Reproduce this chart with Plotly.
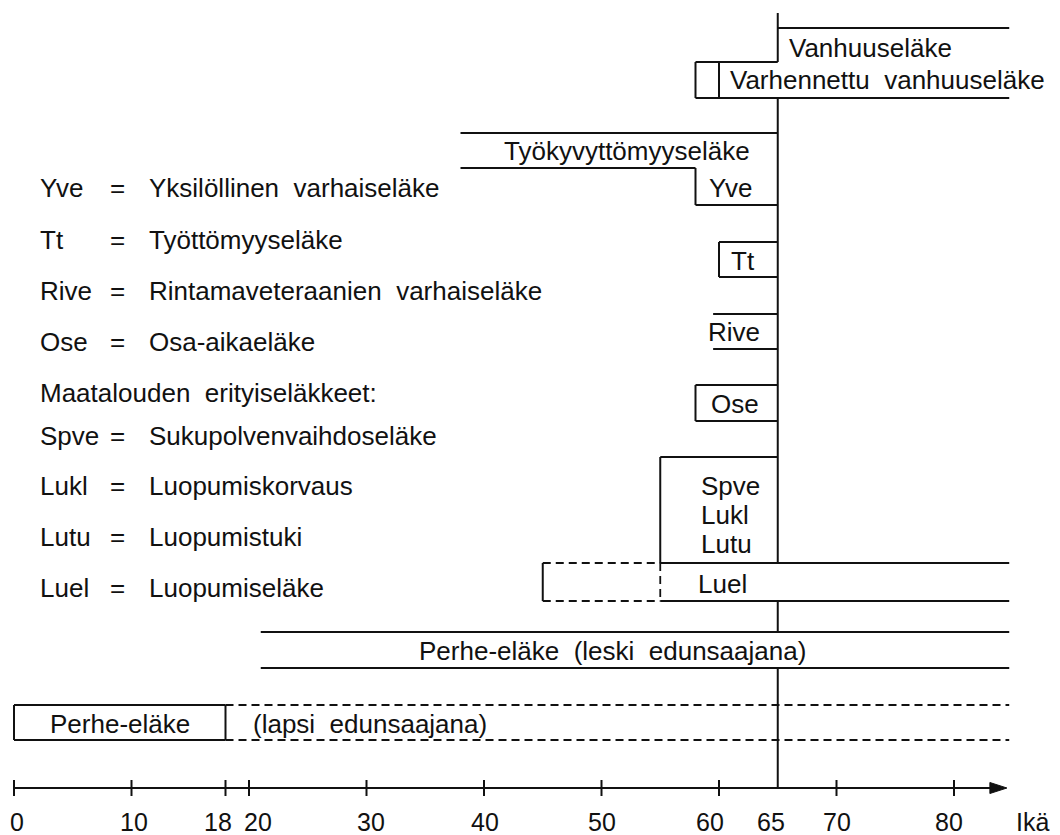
import plotly.graph_objects as go

# ---------------- data (ages in years) ----------------
AGE_END = 84.7            # open-ended pensions run to the right edge of the age scale
RETIREMENT_AGE = 65
axis_ticks = [0, 10, 18, 20, 30, 40, 50, 60, 65, 70, 80]
axis_end = 84.5
axis_title = "Ikä"

pension_labels = ["Vanhuuseläke", "Varhennettu vanhuuseläke", "Työkyvyttömyyseläke",
                  "Yve", "Tt", "Rive", "Ose", "Spve\nLukl\nLutu", "Luel",
                  "Perhe-eläke (leski edunsaajana)", "Perhe-eläke", "(lapsi edunsaajana)"]
vanhuus_start = 65
varhennettu_start = [58, 60]      # small box 58-60, band from 60
tyokyvyttomyys_start = 38
yve_start = 58
tt_start = 60
rive_start = 59.5
ose_start = 58
maatalous_start = 55              # Spve, Lukl, Lutu
luel_start = [45, 55]             # dashed from 45, solid from 55
leski_start = 21
lapsi_range = [0, 18]             # solid box, then dashed continuation

legend_abbr = ["Yve", "Tt", "Rive", "Ose", "Spve", "Lukl", "Lutu", "Luel"]
legend_desc = ["Yksilöllinen varhaiseläke", "Työttömyyseläke",
               "Rintamaveteraanien varhaiseläke", "Osa-aikaeläke",
               "Sukupolvenvaihdoseläke", "Luopumiskorvaus", "Luopumistuki",
               "Luopumiseläke"]
legend_heading = "Maatalouden erityiseläkkeet:"

# ---------------- layout (pixel rows, from top) ----------------
W, H = 1060, 835
PX0, PX_PER_YEAR = 14, 11.75
FONT = "Liberation Sans, Arial, Helvetica, sans-serif"
FS = 26
INK = "#111111"
NB = "\u00a0\u00a0"
# hand-placed tick label offsets (px) as in the original drawing
tick_label_shift = [3, 2, -8, 9, 4, 1, 0, -9, -7, 0, -5]

solid, dashed = [], []


def hline(lst, x0, x1, y):
    lst.append((x0, y, x1, y))


def vline(lst, x, y0, y1):
    lst.append((x, y0, x, y1))


R = RETIREMENT_AGE
# tall retirement-age line
vline(solid, R, 13, 62)
vline(solid, R, 98, 563)
vline(solid, R, 601, 632)
vline(solid, R, 668, 788)
# Vanhuuseläke
hline(solid, vanhuus_start, AGE_END, 28)
# Varhennettu vanhuuseläke
hline(solid, varhennettu_start[0], R, 62)
vline(solid, varhennettu_start[0], 62, 98)
vline(solid, varhennettu_start[1], 62, 98)
hline(solid, varhennettu_start[0], AGE_END, 98)
# Työkyvyttömyyseläke + Yve
hline(solid, tyokyvyttomyys_start, R, 133)
hline(solid, tyokyvyttomyys_start, yve_start, 168)
vline(solid, yve_start, 168, 205)
hline(solid, yve_start, R, 205)
# Tt
hline(solid, tt_start, R, 242)
hline(solid, tt_start, R, 277)
vline(solid, tt_start, 242, 277)
# Rive
hline(solid, rive_start, R, 314)
hline(solid, rive_start, R, 349)
# Ose
hline(solid, ose_start, R, 385)
hline(solid, ose_start, R, 421)
vline(solid, ose_start, 385, 421)
# Spve / Lukl / Lutu
hline(solid, maatalous_start, R, 457)
vline(solid, maatalous_start, 457, 563)
# Luel
hline(solid, luel_start[1], AGE_END, 563)
hline(solid, luel_start[1], AGE_END, 601)
hline(dashed, luel_start[0], luel_start[1], 563)
hline(dashed, luel_start[0], luel_start[1], 601)
vline(solid, luel_start[0], 563, 601)
vline(dashed, luel_start[1], 563, 601)
# Perhe-eläke (leski)
hline(solid, leski_start, AGE_END, 632)
hline(solid, leski_start, AGE_END, 668)
# Perhe-eläke (lapsi)
hline(solid, lapsi_range[0], lapsi_range[1], 705)
hline(solid, lapsi_range[0], lapsi_range[1], 740)
vline(solid, lapsi_range[0], 705, 740)
vline(solid, lapsi_range[1], 705, 740)
hline(dashed, lapsi_range[1], AGE_END, 705)
hline(dashed, lapsi_range[1], AGE_END, 740)
# age axis
AX_Y = 788
arrow_len = 17 / PX_PER_YEAR
hline(solid, axis_ticks[0], axis_end - arrow_len + 0.2, AX_Y)
for t in axis_ticks:
    if t != R:
        vline(solid, t, AX_Y - 8, AX_Y + 8)


def to_xy(segs):
    xs, ys = [], []
    for x0, y0, x1, y1 in segs:
        xs += [x0, x1, None]
        ys += [y0, y1, None]
    return xs, ys


fig = go.Figure()
sx, sy = to_xy(solid)
fig.add_trace(go.Scatter(x=sx, y=sy, mode="lines", line=dict(color=INK, width=2),
                         hoverinfo="skip", showlegend=False))
dx, dy = to_xy(dashed)
fig.add_trace(go.Scatter(x=dx, y=dy, mode="lines",
                         line=dict(color=INK, width=1.8, dash="8px,5px"),
                         hoverinfo="skip", showlegend=False))
# arrow head
fig.add_trace(go.Scatter(x=[axis_end - arrow_len, axis_end, axis_end - arrow_len, axis_end - arrow_len],
                         y=[AX_Y - 5.5, AX_Y, AX_Y + 5.5, AX_Y - 5.5], mode="lines",
                         fill="toself", fillcolor=INK, line=dict(color=INK, width=1),
                         hoverinfo="skip", showlegend=False))


def label(text, x, y, anchor="left", size=FS, xshift=0):
    fig.add_annotation(x=x, y=y, xref="x", yref="y", text=text, showarrow=False,
                       xanchor=anchor, yanchor="middle", xshift=xshift,
                       font=dict(family=FONT, size=size, color=INK))


# tick labels
for t, sh in zip(axis_ticks, tick_label_shift):
    label(str(t), t, 822, "center", FS - 1, sh)
label(axis_title, axis_end + 2.2, 822, "center", FS - 1)

label(pension_labels[0], vanhuus_start + 0.8, 48)
label(pension_labels[1].replace(" ", NB), varhennettu_start[1] + 0.8, 80)
label(pension_labels[2], R - 2.2, 151, "right")
label(pension_labels[3], (yve_start + R) / 2 - 0.5, 188, "center")
label(pension_labels[4], (tt_start + R) / 2 - 0.5, 261, "center")
label(pension_labels[5], (rive_start + R) / 2 - 1.0, 332, "center")
label(pension_labels[6], (ose_start + R) / 2 - 0.1, 404, "center")
for i, part in enumerate(pension_labels[7].split("\n")):
    label(part, maatalous_start + 3.3, 486 + 29 * i)
label(pension_labels[8], (luel_start[1] + R) / 2 + 0.3, 584, "center")
label(pension_labels[9].replace(" ", NB), leski_start + 13.3, 651)
label(pension_labels[10], sum(lapsi_range) / 2, 724, "center")
label(pension_labels[11].replace(" ", NB), lapsi_range[1] + 2.2, 724)

# explanation list on the left (paper-x positions)
legend_rows = [188, 240, 291, 342, 436, 486, 537, 588]
for ab, desc, yy in zip(legend_abbr, legend_desc, legend_rows):
    for txt, px, anc in ((ab, 38, "left"), ("=", 117, "center"), (desc.replace(" ", NB), 147, "left")):
        fig.add_annotation(x=px / W, y=yy, xref="paper", yref="y", text=txt, showarrow=False,
                           xanchor=anc, yanchor="middle",
                           font=dict(family=FONT, size=FS, color=INK))
fig.add_annotation(x=38 / W, y=393, xref="paper", yref="y", text=legend_heading.replace(" ", NB),
                   showarrow=False, xanchor="left", yanchor="middle",
                   font=dict(family=FONT, size=FS, color=INK))

fig.update_layout(
    width=W, height=H, margin=dict(l=0, r=0, t=0, b=0),
    paper_bgcolor="white", plot_bgcolor="white",
    xaxis=dict(range=[-PX0 / PX_PER_YEAR, (W - PX0) / PX_PER_YEAR], visible=False, fixedrange=True),
    yaxis=dict(range=[H, 0], visible=False, fixedrange=True),
    showlegend=False,
)
fig.write_html("out.html", config={"displayModeBar": False},
               post_script="document.body.style.margin='0px';document.body.style.overflow='hidden';")
